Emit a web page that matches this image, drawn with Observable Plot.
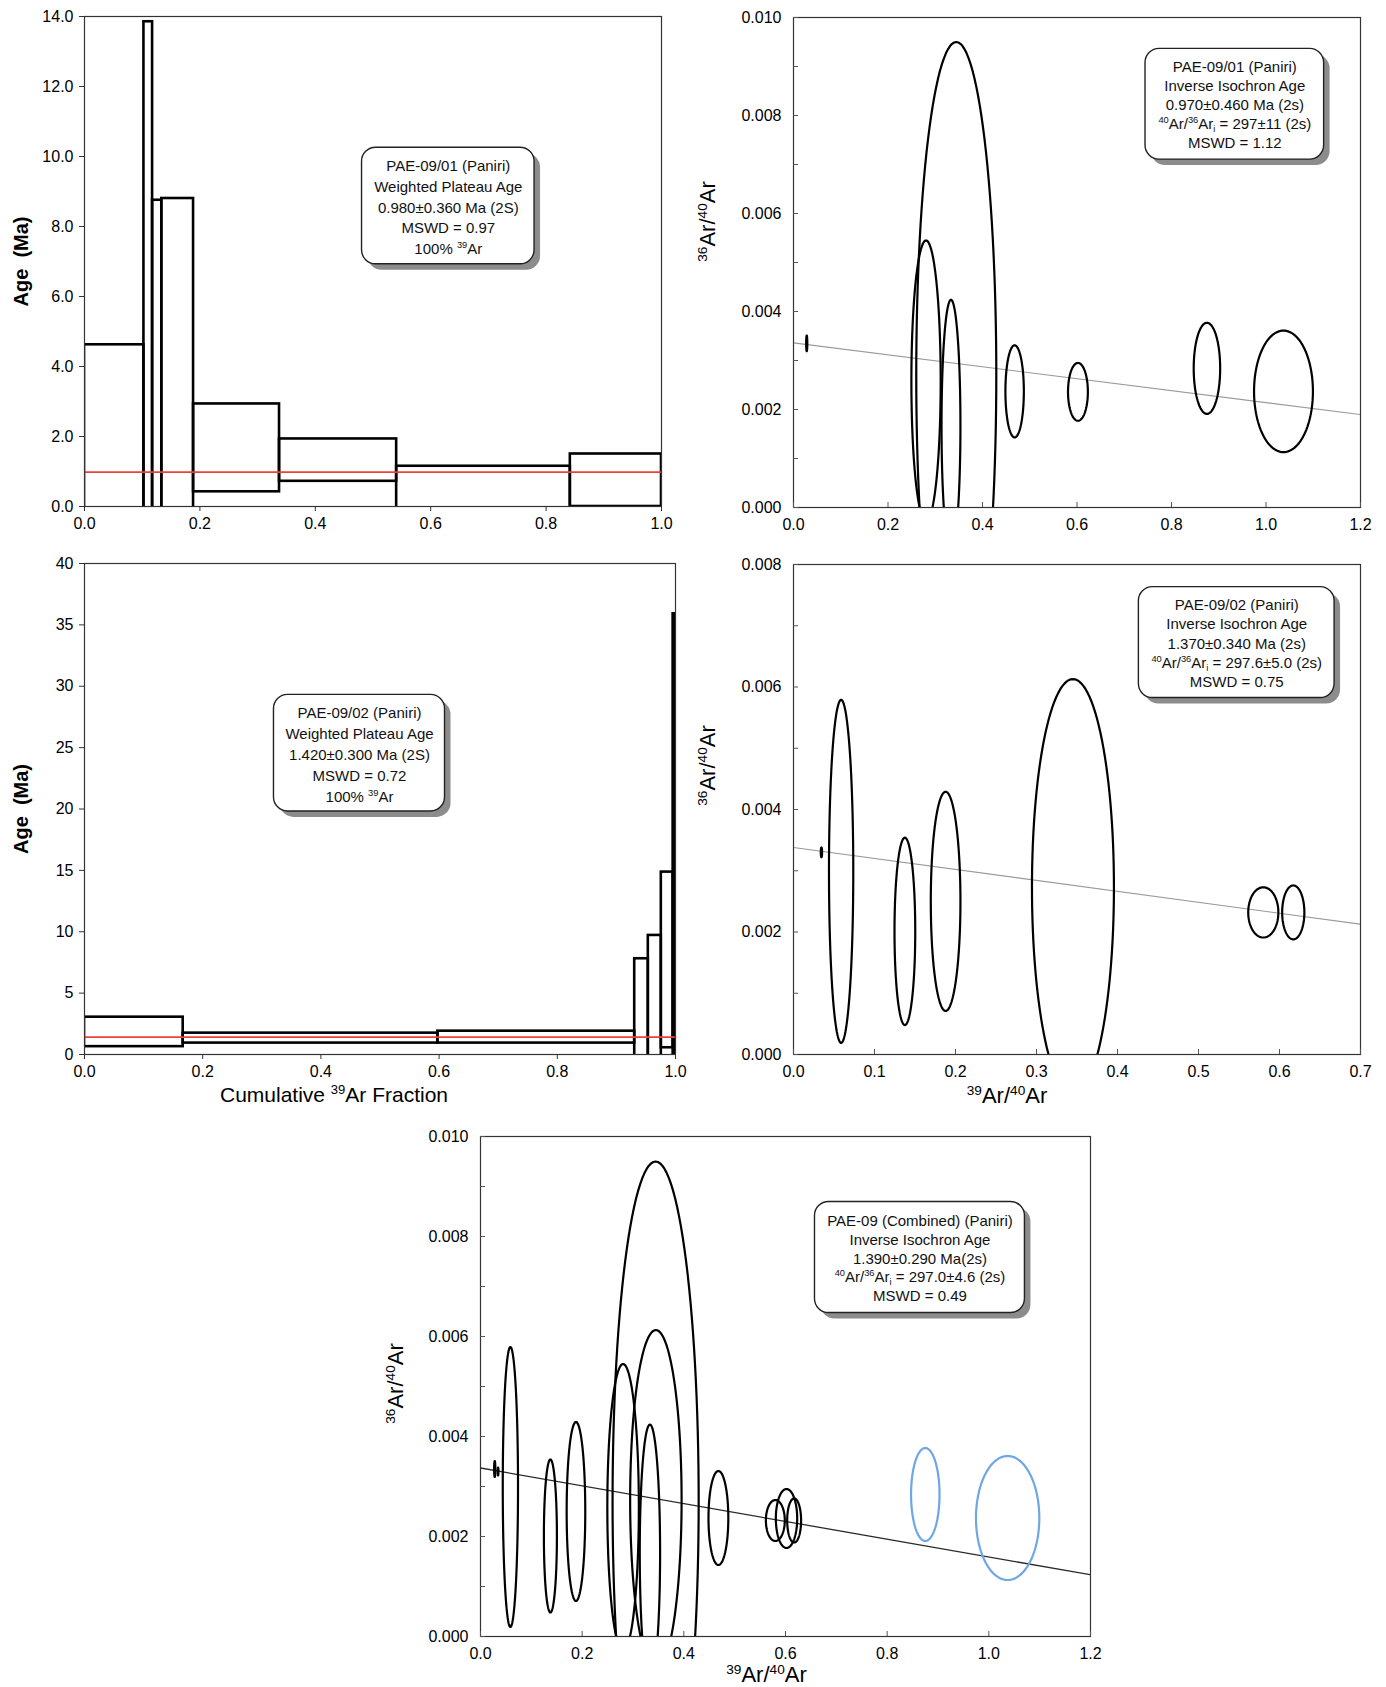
<!DOCTYPE html>
<html><head><meta charset="utf-8">
<script src="https://cdn.jsdelivr.net/npm/d3@7"></script>
<script src="https://cdn.jsdelivr.net/npm/@observablehq/plot@0.6"></script>
<style>
body{margin:0;background:#fff;}
#wrap{position:relative;width:1386px;height:1687px;background:#fff;overflow:hidden;}
.panel{position:absolute;}
.panel svg{display:block;max-width:none;}
</style></head><body><div id="wrap"></div>
<script>
// ---------- Age spectrum PAE-09/01 ----------
const specA_x1 = [0, 0.103, 0.118, 0.134, 0.189, 0.338, 0.541, 0.842];
const specA_x2 = [0.103, 0.118, 0.134, 0.189, 0.338, 0.541, 0.842, 1.0];
const specA_lo = [-0.8, -1.0, -1.0, -1.0, 0.42, 0.72, -0.3, 0.0];
const specA_hi = [4.62, 13.85, 8.75, 8.8, 2.93, 1.93, 1.15, 1.5];
const specA_plateau = 0.98;
const specA_xTicks = [0, 0.2, 0.4, 0.6, 0.8, 1.0];
const specA_yTicks = [0, 2, 4, 6, 8, 10, 12, 14];
const specA_text = ["PAE-09/01 (Paniri)", "Weighted Plateau Age", "0.980±0.360 Ma (2S)", "MSWD = 0.97", "100% ^{39}Ar"];

// ---------- Age spectrum PAE-09/02 ----------
const specB_x1 = [0, 0.167, 0.598, 0.931, 0.954, 0.976, 0.996];
const specB_x2 = [0.167, 0.598, 0.931, 0.954, 0.976, 0.996, 1.0];
const specB_lo = [0.64, 0.93, 0.93, -1, -1, 0.55, -1];
const specB_hi = [3.04, 1.74, 1.9, 7.8, 9.7, 14.86, 35.9];
const specB_plateau = 1.42;
const specB_xTicks = [0, 0.2, 0.4, 0.6, 0.8, 1.0];
const specB_yTicks = [0, 5, 10, 15, 20, 25, 30, 35, 40];
const specB_text = ["PAE-09/02 (Paniri)", "Weighted Plateau Age", "1.420±0.300 Ma (2S)", "MSWD = 0.72", "100% ^{39}Ar"];

// ---------- Inverse isochron PAE-09/01 (2-sigma ellipses) ----------
const isoA_x  = [0.028, 0.2805, 0.3333, 0.3445, 0.468, 0.602, 0.875, 1.037];
const isoA_y  = [0.00335, 0.00258, 0.00167, 0.0027, 0.00237, 0.00236, 0.00284, 0.00237];
const isoA_ex = [0.0012, 0.031, 0.020, 0.0847, 0.0195, 0.021, 0.028, 0.0623];
const isoA_ey = [0.00016, 0.00287, 0.00257, 0.0068, 0.00094, 0.00059, 0.00093, 0.00124];
const isoA_excluded = [false, false, false, false, false, false, true, true];
const isoA_intercept = 0.00336, isoA_slope = -0.00122;
const isoA_xTicks = [0, 0.2, 0.4, 0.6, 0.8, 1.0, 1.2];
const isoA_yTicks = [0, 0.002, 0.004, 0.006, 0.008, 0.010];
const isoA_text = ["PAE-09/01 (Paniri)", "Inverse Isochron Age", "0.970±0.460 Ma (2s)", "^{40}Ar/^{36}Ar_{i} = 297±11 (2s)", "MSWD = 1.12"];

// ---------- Inverse isochron PAE-09/02 ----------
const isoB_x  = [0.0345, 0.0588, 0.1375, 0.1878, 0.345, 0.580, 0.617];
const isoB_y  = [0.0033, 0.00299, 0.00201, 0.0025, 0.00273, 0.00232, 0.00232];
const isoB_ex = [0.0008, 0.015, 0.0128, 0.0183, 0.0506, 0.0186, 0.0137];
const isoB_ey = [0.00008, 0.0028, 0.00153, 0.00179, 0.0034, 0.00041, 0.00044];
const isoB_excluded = [false, false, false, false, false, false, false];
const isoB_intercept = 0.00338, isoB_slope = -0.00179;
const isoB_xTicks = [0, 0.1, 0.2, 0.3, 0.4, 0.5, 0.6, 0.7];
const isoB_yTicks = [0, 0.002, 0.004, 0.006, 0.008];
const isoB_text = ["PAE-09/02 (Paniri)", "Inverse Isochron Age", "1.370±0.340 Ma (2s)", "^{40}Ar/^{36}Ar_{i} = 297.6±5.0 (2s)", "MSWD = 0.75"];

// ---------- Combined isochron ----------
const isoC_intercept = 0.00337, isoC_slope = -0.00178;
const isoC_xTicks = [0, 0.2, 0.4, 0.6, 0.8, 1.0, 1.2];
const isoC_yTicks = [0, 0.002, 0.004, 0.006, 0.008, 0.010];
const isoC_text = ["PAE-09 (Combined) (Paniri)", "Inverse Isochron Age", "1.390±0.290 Ma(2s)", "^{40}Ar/^{36}Ar_{i} = 297.0±4.6 (2s)", "MSWD = 0.49"];

const FONT = '"Liberation Sans", Arial, Helvetica, sans-serif';
const RED = "#ee4036";
const BLUE = "#6ea6e6";

function richify(svg) {
  const NS = "http://www.w3.org/2000/svg";
  const nodes = Array.from(svg.querySelectorAll("text, tspan"));
  for (const el of nodes) {
    if (el.childNodes.length !== 1 || el.firstChild.nodeType !== 3) continue;
    const s = el.textContent;
    if (!/[\^_]\{/.test(s)) continue;
    el.textContent = "";
    const re = /([\^_])\{([^}]*)\}/g;
    let last = 0, m;
    while ((m = re.exec(s))) {
      if (m.index > last) el.appendChild(document.createTextNode(s.slice(last, m.index)));
      const t = document.createElementNS(NS, "tspan");
      t.setAttribute("style", "font-size:0.62em;baseline-shift:" + (m[1] === "^" ? "0.62em" : "-0.35em"));
      t.textContent = m[2];
      el.appendChild(t);
      last = re.lastIndex;
    }
    if (last < s.length) el.appendChild(document.createTextNode(s.slice(last)));
  }
}

function infoBox(b, lines) {
  return [
    Plot.rect([0], {x1: () => b.x1, x2: () => b.x2, y1: () => b.y1, y2: () => b.y2, rx: 14, fill: "#8c8c8c", dx: 6, dy: 6}),
    Plot.rect([0], {x1: () => b.x1, x2: () => b.x2, y1: () => b.y1, y2: () => b.y2, rx: 14, fill: "white", stroke: "#222", strokeWidth: 1.4}),
    Plot.text([lines.join("\n")], {x: () => (b.x1 + b.x2) / 2, y: () => (b.y1 + b.y2) / 2, text: d => d, fontSize: 15, lineHeight: b.lh, fill: "#111"})
  ];
}

function place(svg, left, top, w, h) {
  const d = document.createElement("div");
  d.className = "panel";
  d.style.left = left + "px"; d.style.top = top + "px";
  d.style.width = w + "px"; d.style.height = h + "px";
  d.appendChild(svg);
  document.getElementById("wrap").appendChild(d);
  richify(svg);
}

function spectrumPanel(o) {
  const idx = d3.range(o.x1.length);
  return Plot.plot({
    width: o.w, height: o.h,
    marginLeft: o.ml, marginRight: o.mr, marginTop: o.mt, marginBottom: o.mb,
    style: {fontFamily: FONT, fontSize: "16px", color: "#000", background: "transparent"},
    x: {domain: [0, 1], label: null},
    y: {domain: o.yDomain, label: null},
    marks: [
      Plot.rect(idx, {x1: i => o.x1[i], x2: i => o.x2[i], y1: i => o.lo[i], y2: i => o.hi[i], fill: "none", stroke: "#000", strokeWidth: 2.6, clip: true}),
      Plot.ruleY([o.plateau], {y: d => d, stroke: RED, strokeWidth: 1.7}),
      ...infoBox(o.box, o.text),
      Plot.frame({stroke: "#333", strokeWidth: 1.2}),
      Plot.axisX({ticks: o.xTicks, tickFormat: d3.format(".1f"), tickSize: 5, tickPadding: 6, label: null, stroke: "#333"}),
      Plot.axisY({ticks: o.yTicks, tickFormat: o.yFmt, tickSize: 5, tickPadding: 6, label: null, stroke: "#333"}),
      Plot.text(["Age  (Ma)"], {frameAnchor: "left", text: d => d, rotate: -90, dx: -63, textAnchor: "middle", lineAnchor: "middle", fontWeight: "bold", fontSize: 20}),
      ...(o.xlabel ? [Plot.text([o.xlabel.text], {frameAnchor: "bottom", text: d => d, dx: o.xlabel.dx, dy: o.xlabel.dy, textAnchor: "middle", lineAnchor: "middle", fontSize: 21})] : [])
    ]
  });
}

function ellipseRows(xs, ys, exs, eys, flags, wantFlag) {
  const rows = [];
  xs.forEach((x, i) => {
    if (flags[i] !== wantFlag) return;
    for (let k = 0; k <= 120; k++) {
      const t = (k / 120) * 2 * Math.PI;
      rows.push({id: i, x: x + exs[i] * Math.cos(t), y: ys[i] + eys[i] * Math.sin(t)});
    }
  });
  return rows;
}

function isoPanel(o) {
  const fW = o.w - o.ml - o.mr, fH = o.h - o.mt - o.mb;
  const black = [], blue = [];
  o.sets.forEach(s => {
    black.push(...ellipseRows(s.x, s.y, s.ex, s.ey, s.flags.map((f, i) => o.showExcluded ? f : false), false).map(r => ({...r, id: s.name + r.id})));
    if (o.showExcluded) blue.push(...ellipseRows(s.x, s.y, s.ex, s.ey, s.flags, true).map(r => ({...r, id: s.name + r.id})));
  });
  const yMinor = d3.range(0, Math.round(o.yDomain[1] / 0.001) + 1).map(k => k * 0.001);
  return Plot.plot({
    width: o.w, height: o.h,
    marginLeft: o.ml, marginRight: o.mr, marginTop: o.mt, marginBottom: o.mb,
    style: {fontFamily: FONT, fontSize: "16px", color: "#000", background: "transparent"},
    x: {domain: o.xDomain, label: null},
    y: {domain: o.yDomain, label: null},
    marks: [
      Plot.line(o.xDomain, {x: d => d, y: d => o.intercept + o.slope * d, stroke: o.lineColor, strokeWidth: o.lineWidth, clip: true}),
      Plot.line(black, {x: "x", y: "y", z: "id", stroke: "#000", strokeWidth: 2.2, clip: true}),
      Plot.line(blue, {x: "x", y: "y", z: "id", stroke: BLUE, strokeWidth: 2.2, clip: true}),
      ...infoBox(o.box, o.text),
      Plot.frame({stroke: "#333", strokeWidth: 1.2}),
      Plot.ruleX(o.xTicks, {x: d => d, insetTop: fH - 5, stroke: "#555"}),
      Plot.ruleY(yMinor, {y: d => d, insetRight: fW - 5, stroke: "#555"}),
      Plot.axisX({ticks: o.xTicks, tickFormat: d3.format(".1f"), tickSize: 0, tickPadding: 11, label: null}),
      Plot.axisY({ticks: o.yTicks, tickFormat: d3.format(".3f"), tickSize: 0, tickPadding: 12, label: null}),
      Plot.text(["^{36}Ar/^{40}Ar"], {frameAnchor: "left", text: d => d, rotate: -90, dx: o.ylabel.dx, dy: o.ylabel.dy, textAnchor: "middle", lineAnchor: "middle", fontSize: 22}),
      ...(o.xlabel ? [Plot.text(["^{39}Ar/^{40}Ar"], {frameAnchor: "bottom", text: d => d, dx: o.xlabel.dx, dy: o.xlabel.dy, textAnchor: "middle", lineAnchor: "middle", fontSize: 22})] : [])
    ]
  });
}

const setA = {name: "a", x: isoA_x, y: isoA_y, ex: isoA_ex, ey: isoA_ey, flags: isoA_excluded};
const setB = {name: "b", x: isoB_x, y: isoB_y, ex: isoB_ex, ey: isoB_ey, flags: isoB_excluded};

// Panel 1
place(spectrumPanel({
  w: 690, h: 540, ml: 84, mr: 29, mt: 16, mb: 34,
  x1: specA_x1, x2: specA_x2, lo: specA_lo, hi: specA_hi, plateau: specA_plateau,
  yDomain: [0, 14], xTicks: specA_xTicks, yTicks: specA_yTicks, yFmt: d3.format(".1f"),
  box: {x1: 0.481, x2: 0.780, y1: 6.92, y2: 10.25, lh: 1.38}, text: specA_text
}), 0, 0, 690, 540);

// Panel 2
place(isoPanel({
  w: 696, h: 540, ml: 103, mr: 26, mt: 17, mb: 33,
  sets: [setA], showExcluded: false,
  xDomain: [0, 1.2], yDomain: [0, 0.010], xTicks: isoA_xTicks, yTicks: isoA_yTicks,
  intercept: isoA_intercept, slope: isoA_slope, lineColor: "#9a9a9a", lineWidth: 1.1,
  box: {x1: 0.745, x2: 1.123, y1: 0.0071, y2: 0.00936, lh: 1.27}, text: isoA_text,
  ylabel: {dx: -86, dy: -41}
}), 690, 0, 696, 540);

// Panel 3
place(spectrumPanel({
  w: 690, h: 570, ml: 84, mr: 15, mt: 23, mb: 56,
  x1: specB_x1, x2: specB_x2, lo: specB_lo, hi: specB_hi, plateau: specB_plateau,
  yDomain: [0, 40], xTicks: specB_xTicks, yTicks: specB_yTicks, yFmt: d3.format("d"),
  box: {x1: 0.3206, x2: 0.610, y1: 19.8, y2: 29.3, lh: 1.4}, text: specB_text,
  xlabel: {text: "Cumulative ^{39}Ar Fraction", dx: -46, dy: 41}
}), 0, 540, 690, 570);

// Panel 4
place(isoPanel({
  w: 696, h: 570, ml: 103, mr: 26, mt: 24, mb: 56,
  sets: [setB], showExcluded: false,
  xDomain: [0, 0.7], yDomain: [0, 0.008], xTicks: isoB_xTicks, yTicks: isoB_yTicks,
  intercept: isoB_intercept, slope: isoB_slope, lineColor: "#9a9a9a", lineWidth: 1.1,
  box: {x1: 0.4264, x2: 0.668, y1: 0.00582, y2: 0.00763, lh: 1.29}, text: isoB_text,
  ylabel: {dx: -86, dy: -44}, xlabel: {dx: -70, dy: 41}
}), 690, 540, 696, 570);

// Panel 5
place(isoPanel({
  w: 740, h: 577, ml: 110, mr: 20, mt: 26, mb: 51,
  sets: [setA, setB], showExcluded: true,
  xDomain: [0, 1.2], yDomain: [0, 0.010], xTicks: isoC_xTicks, yTicks: isoC_yTicks,
  intercept: isoC_intercept, slope: isoC_slope, lineColor: "#2a2a2a", lineWidth: 1.3,
  box: {x1: 0.658, x2: 1.071, y1: 0.00647, y2: 0.00869, lh: 1.26}, text: isoC_text,
  ylabel: {dx: -85, dy: -3}, xlabel: {dx: -19, dy: 38}
}), 370, 1110, 740, 577);
</script></body></html>
